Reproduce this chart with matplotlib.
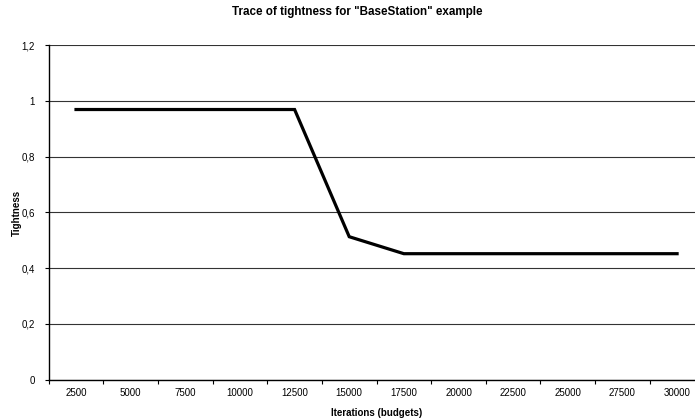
import matplotlib

matplotlib.use("Agg")

import matplotlib.pyplot as plt
import numpy as np

budgets = [2500, 5000, 7500, 10000, 12500, 15000, 17500, 20000, 22500, 25000, 27500, 30000]
tightness = [0.97, 0.97, 0.97, 0.97, 0.97, 0.513, 0.452, 0.452, 0.452, 0.452, 0.452, 0.452]
y_ticks = [0, 0.2, 0.4, 0.6, 0.8, 1.0, 1.2]
y_labels = ["0", "0,2", "0,4", "0,6", "0,8", "1", "1,2"]

plt.rcParams["font.family"] = ["Liberation Sans", "DejaVu Sans"]

fig = plt.figure(figsize=(6.95, 4.19), dpi=100)
ax = fig.add_axes((48.7 / 695, 1 - 379.5 / 419, (704.4 - 48.7) / 695, (379.5 - 45.5) / 419))

x = np.arange(len(budgets))
ax.plot(x, tightness, color="black", lw=2.3, solid_joinstyle="miter")

ax.set_xlim(-0.5, len(budgets) - 0.5)
ax.set_ylim(0, 1.2)
ax.set_yticks(y_ticks)
ax.set_yticklabels(y_labels, fontsize=7)
ax.set_xticks(x)
ax.set_xticklabels([str(b) for b in budgets], fontsize=7)
ax.set_xticks(np.arange(len(budgets) + 1) - 0.5, minor=True)
ax.tick_params(axis="x", which="major", length=0, pad=6)
ax.tick_params(axis="x", which="minor", length=3, width=0.8, direction="out")
ax.tick_params(axis="y", length=3, width=0.8, direction="out", pad=7)

ax.grid(axis="y", color="#333333", lw=0.8)
for side in ("top", "right"):
    ax.spines[side].set_visible(False)
ax.spines["left"].set_linewidth(1.0)
ax.spines["bottom"].set_linewidth(1.0)
ax.set_axisbelow(True)

ax.set_xlabel("Iterations (budgets)", fontsize=7, fontweight="bold", labelpad=7)
ax.set_ylabel("Tightness", fontsize=7, fontweight="bold")
ax.yaxis.set_label_coords(-0.041, 0.5)
fig.suptitle('Trace of tightness for "BaseStation" example', fontsize=8.4, fontweight="bold",
             x=357 / 695, y=1 - 12 / 419, va="center")

fig.savefig("out.png", dpi=100)
plt.close(fig)
